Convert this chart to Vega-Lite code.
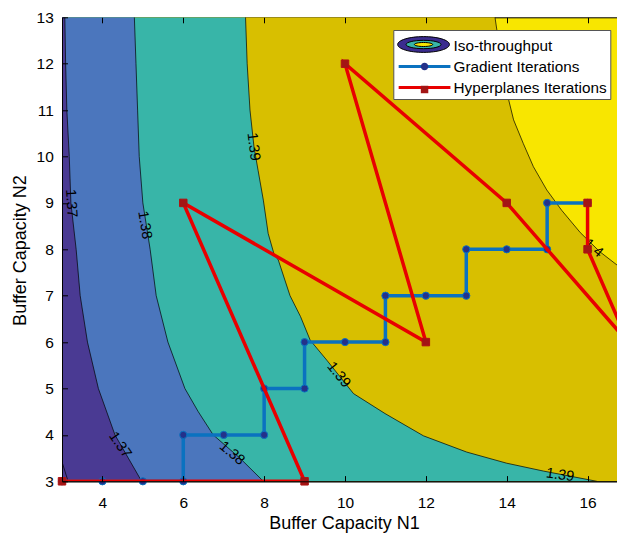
{
  "$schema": "https://vega.github.io/schema/vega-lite/v6.json",
  "width": 566,
  "height": 464,
  "autosize": "none",
  "padding": {"left": 62, "top": 17.3, "right": -11, "bottom": 51.7},
  "background": "white",
  "config": {
    "view": {"fill": "#f8e600", "stroke": "#000", "strokeWidth": 1},
    "font": "Liberation Sans",
    "text": {"font": "Liberation Sans", "fontSize": 14.5, "color": "#000", "align": "center", "baseline": "middle"},
    "axis": {
      "domainColor": "#000", "tickColor": "#000", "labelColor": "#000", "titleColor": "#000",
      "labelFont": "Liberation Sans", "titleFont": "Liberation Sans",
      "labelFontSize": 15.5, "titleFontSize": 18, "titleFontWeight": "normal",
      "tickSize": -5.5, "labelFlush": false, "domainWidth": 1, "tickWidth": 1
    },
    "legend": {
      "labelFont": "Liberation Sans", "labelFontSize": 15.3, "labelColor": "#000", "labelLimit": 300,
      "padding": 3, "symbolSize": 454, "rowPadding": 0, "symbolOpacity": 1
    }
  },
  "datasets": {
    "contours": [
      {"level": "1.36", "n1": 3.0, "n2": 3.42}, {"level": "1.36", "n1": 3.15, "n2": 3.0},
      {"level": "1.37", "n1": 3.07, "n2": 13}, {"level": "1.37", "n1": 3.09, "n2": 12}, {"level": "1.37", "n1": 3.12, "n2": 11},
      {"level": "1.37", "n1": 3.18, "n2": 10}, {"level": "1.37", "n1": 3.22, "n2": 9}, {"level": "1.37", "n1": 3.35, "n2": 8},
      {"level": "1.37", "n1": 3.45, "n2": 7}, {"level": "1.37", "n1": 3.63, "n2": 6}, {"level": "1.37", "n1": 3.9, "n2": 5},
      {"level": "1.37", "n1": 4.31, "n2": 4}, {"level": "1.37", "n1": 4.64, "n2": 3.5}, {"level": "1.37", "n1": 4.97, "n2": 3},
      {"level": "1.38", "n1": 4.79, "n2": 13}, {"level": "1.38", "n1": 4.83, "n2": 12}, {"level": "1.38", "n1": 4.87, "n2": 11},
      {"level": "1.38", "n1": 4.91, "n2": 10}, {"level": "1.38", "n1": 5.0, "n2": 9}, {"level": "1.38", "n1": 5.18, "n2": 8},
      {"level": "1.38", "n1": 5.33, "n2": 7}, {"level": "1.38", "n1": 5.62, "n2": 6}, {"level": "1.38", "n1": 6.04, "n2": 5},
      {"level": "1.38", "n1": 6.37, "n2": 4.5}, {"level": "1.38", "n1": 6.74, "n2": 4}, {"level": "1.38", "n1": 7.4, "n2": 3.5},
      {"level": "1.38", "n1": 7.98, "n2": 3},
      {"level": "1.39", "n1": 7.54, "n2": 13}, {"level": "1.39", "n1": 7.58, "n2": 12}, {"level": "1.39", "n1": 7.65, "n2": 11},
      {"level": "1.39", "n1": 7.75, "n2": 10.2}, {"level": "1.39", "n1": 7.85, "n2": 9.7}, {"level": "1.39", "n1": 7.98, "n2": 9.06},
      {"level": "1.39", "n1": 8.1, "n2": 8.34}, {"level": "1.39", "n1": 8.24, "n2": 7.91}, {"level": "1.39", "n1": 8.35, "n2": 7.77},
      {"level": "1.39", "n1": 8.64, "n2": 7}, {"level": "1.39", "n1": 8.9, "n2": 6.55}, {"level": "1.39", "n1": 9.14, "n2": 6.04},
      {"level": "1.39", "n1": 9.55, "n2": 5.61}, {"level": "1.39", "n1": 10.21, "n2": 4.89}, {"level": "1.39", "n1": 10.99, "n2": 4.46},
      {"level": "1.39", "n1": 11.94, "n2": 3.98}, {"level": "1.39", "n1": 13.01, "n2": 3.63}, {"level": "1.39", "n1": 14.0, "n2": 3.39},
      {"level": "1.39", "n1": 14.91, "n2": 3.22}, {"level": "1.39", "n1": 16.23, "n2": 3},
      {"level": "1.40", "n1": 13.71, "n2": 13}, {"level": "1.40", "n1": 13.88, "n2": 12}, {"level": "1.40", "n1": 14.04, "n2": 11.25},
      {"level": "1.40", "n1": 14.17, "n2": 10.79}, {"level": "1.40", "n1": 14.41, "n2": 10.28}, {"level": "1.40", "n1": 14.66, "n2": 9.78},
      {"level": "1.40", "n1": 14.99, "n2": 9.28}, {"level": "1.40", "n1": 15.36, "n2": 8.84}, {"level": "1.40", "n1": 15.82, "n2": 8.36},
      {"level": "1.40", "n1": 16.3, "n2": 7.95}, {"level": "1.40", "n1": 16.73, "n2": 7.66}, {"level": "1.40", "n1": 17.2, "n2": 7.3},
      {"level": "1.40", "n1": 17.8, "n2": 3}
    ],
    "gradient": [
      {"step": 0, "n1": 3, "n2": 3}, {"step": 1, "n1": 4, "n2": 3}, {"step": 2, "n1": 5, "n2": 3}, {"step": 3, "n1": 6, "n2": 3},
      {"step": 4, "n1": 6, "n2": 4}, {"step": 5, "n1": 7, "n2": 4}, {"step": 6, "n1": 8, "n2": 4}, {"step": 7, "n1": 8, "n2": 5},
      {"step": 8, "n1": 9, "n2": 5}, {"step": 9, "n1": 9, "n2": 6}, {"step": 10, "n1": 10, "n2": 6}, {"step": 11, "n1": 11, "n2": 6},
      {"step": 12, "n1": 11, "n2": 7}, {"step": 13, "n1": 12, "n2": 7}, {"step": 14, "n1": 13, "n2": 7}, {"step": 15, "n1": 13, "n2": 8},
      {"step": 16, "n1": 14, "n2": 8}, {"step": 17, "n1": 15, "n2": 8}, {"step": 18, "n1": 15, "n2": 9}, {"step": 19, "n1": 16, "n2": 9}
    ],
    "hyper": [
      {"step": 0, "n1": 3, "n2": 3}, {"step": 1, "n1": 9, "n2": 3}, {"step": 2, "n1": 6, "n2": 9}, {"step": 3, "n1": 12, "n2": 6},
      {"step": 4, "n1": 10, "n2": 12}, {"step": 5, "n1": 14, "n2": 9}, {"step": 6, "n1": 17, "n2": 6}, {"step": 7, "n1": 16, "n2": 8},
      {"step": 8, "n1": 16, "n2": 9}
    ],
    "series": [
      {"series": "Iso-throughput"}, {"series": "Gradient Iterations"}, {"series": "Hyperplanes Iterations"}
    ],
    "iso": [{"iso": "Iso-throughput"}]
  },
  "encoding": {
    "x": {"field": "n1", "type": "quantitative", "stack": null, "scale": {"domain": [3, 17], "nice": false, "zero": false},
      "axis": {"orient": "bottom", "values": [4, 6, 8, 10, 12, 14, 16], "title": "Buffer Capacity N1", "labelPadding": 19.5,
        "titleX": 282, "titleY": 47.5, "titleBaseline": "alphabetic", "titleAlign": "center", "zindex": 1,
        "grid": true, "gridColor": "#000", "gridOpacity": 1, "gridWidth": 1, "gridDash": [5.5, 453, 5.5, 1000]}},
    "y": {"field": "n2", "type": "quantitative", "stack": null, "scale": {"domain": [3, 13], "nice": false, "zero": false},
      "axis": {"orient": "left", "values": [3, 4, 5, 6, 7, 8, 9, 10, 11, 12, 13], "title": "Buffer Capacity N2", "labelPadding": 14.2,
        "titleX": -36.5, "titleY": 232.7, "titleAngle": 270, "titleBaseline": "alphabetic", "titleAlign": "center", "zindex": 1, "grid": false}}
  },
  "resolve": {"scale": {"color": "independent", "shape": "independent"}},
  "layer": [
    {
      "data": {"name": "contours"},
      "transform": [{"filter": "datum.level == '1.40'"}],
      "mark": {"type": "area", "orient": "horizontal", "color": "#d8bf00", "clip": true},
      "encoding": {}
    },
    {
      "data": {"name": "contours"},
      "transform": [{"filter": "datum.level == '1.39'"}],
      "mark": {"type": "area", "orient": "horizontal", "color": "#38b5a8", "clip": true},
      "encoding": {}
    },
    {
      "data": {"name": "contours"},
      "transform": [{"filter": "datum.level == '1.38'"}],
      "mark": {"type": "area", "orient": "horizontal", "color": "#4b76bd", "clip": true},
      "encoding": {}
    },
    {
      "data": {"name": "contours"},
      "transform": [{"filter": "datum.level == '1.37'"}],
      "mark": {"type": "area", "orient": "horizontal", "color": "#4a3a93", "clip": true},
      "encoding": {}
    },
    {
      "data": {"name": "contours"},
      "mark": {"type": "line", "color": "#000", "strokeWidth": 0.7, "clip": true},
      "encoding": {
        "detail": {"field": "level"},
        "order": {"field": "n2", "type": "quantitative"}
      }
    },
    {
      "layer": [
        {"data": {"values": [{"label": "1.37", "n1": 3.22, "n2": 8.99}]}, "mark": {"type": "text", "angle": 86}, "encoding": {"text": {"field": "label"}}},
        {"data": {"values": [{"label": "1.38", "n1": 5.04, "n2": 8.52}]}, "mark": {"type": "text", "angle": 81}, "encoding": {"text": {"field": "label"}}},
        {"data": {"values": [{"label": "1.39", "n1": 7.73, "n2": 10.21}]}, "mark": {"type": "text", "angle": 83}, "encoding": {"text": {"field": "label"}}},
        {"data": {"values": [{"label": "1.37", "n1": 4.43, "n2": 3.78}]}, "mark": {"type": "text", "angle": 56}, "encoding": {"text": {"field": "label"}}},
        {"data": {"values": [{"label": "1.38", "n1": 7.2, "n2": 3.6}]}, "mark": {"type": "text", "angle": 40}, "encoding": {"text": {"field": "label"}}},
        {"data": {"values": [{"label": "1.39", "n1": 9.84, "n2": 5.29}]}, "mark": {"type": "text", "angle": 51}, "encoding": {"text": {"field": "label"}}},
        {"data": {"values": [{"label": "1.39", "n1": 15.32, "n2": 3.13}]}, "mark": {"type": "text", "angle": 8}, "encoding": {"text": {"field": "label"}}},
        {"data": {"values": [{"label": "1.4", "n1": 16.14, "n2": 8.02}]}, "mark": {"type": "text", "angle": 40}, "encoding": {"text": {"field": "label"}}}
      ]
    },
    {
      "data": {"name": "gradient"},
      "mark": {"type": "line", "color": "#0a72c0", "strokeWidth": 3.5, "clip": true},
      "encoding": {"order": {"field": "step", "type": "quantitative"}}
    },
    {
      "data": {"name": "gradient"},
      "mark": {"type": "point", "shape": "circle", "filled": true, "fill": "#24318a", "stroke": "#0a72c0", "strokeWidth": 1, "size": 52, "opacity": 1}
    },
    {
      "data": {"name": "hyper"},
      "mark": {"type": "line", "color": "#e80000", "strokeWidth": 3.5, "clip": true},
      "encoding": {"order": {"field": "step", "type": "quantitative"}}
    },
    {
      "data": {"name": "hyper"},
      "mark": {"type": "point", "shape": "square", "filled": true, "fill": "#a31515", "stroke": "#b01212", "strokeWidth": 1, "size": 56, "opacity": 1}
    },
    {
      "data": {"name": "series"},
      "mark": {"type": "point", "filled": false, "opacity": 0},
      "encoding": {
        "color": {"field": "series", "type": "nominal",
          "scale": {"domain": ["Iso-throughput", "Gradient Iterations", "Hyperplanes Iterations"], "range": ["transparent", "#0a72c0", "#e80000"]},
          "legend": {"title": null, "orient": "none", "legendX": 331.3, "legendY": 12.7, "fillColor": "white", "strokeColor": "#555",
            "symbolStrokeWidth": 3, "symbolOffset": 15.75, "labelOffset": 16.5, "zindex": 1}},
        "shape": {"field": "series", "type": "nominal",
          "scale": {"domain": ["Iso-throughput", "Gradient Iterations", "Hyperplanes Iterations"], "range": ["M0,0", "M-2.43,0H2.43", "M-2.43,0H2.43"]},
          "legend": {"title": null}}
      }
    },
    {
      "data": {"name": "iso"},
      "mark": {"type": "point", "filled": true, "opacity": 0, "shape": "M-2.43,0A2.43,0.74 0 1 1 2.43,0A2.43,0.74 0 1 1 -2.43,0Z"},
      "encoding": {
        "color": {"field": "iso", "type": "nominal", "scale": {"domain": ["Iso-throughput"], "range": ["#3b2c8f"]},
          "legend": {"title": null, "orient": "none", "legendX": 331.3, "legendY": 12.7, "symbolStrokeWidth": 1, "symbolStrokeColor": "#000",
            "symbolType": "M-2.43,0A2.43,0.74 0 1 1 2.43,0A2.43,0.74 0 1 1 -2.43,0Z", "symbolOffset": 15.75, "labelOffset": 16.5, "labelExpr": "''", "zindex": 2}}
      }
    },
    {
      "data": {"name": "iso"},
      "mark": {"type": "point", "filled": true, "opacity": 0, "shape": "M-1.64,0A1.64,0.39 0 1 1 1.64,0A1.64,0.39 0 1 1 -1.64,0Z"},
      "encoding": {
        "color": {"field": "iso", "type": "nominal", "scale": {"domain": ["Iso-throughput"], "range": ["#38b5a8"]},
          "legend": {"title": null, "orient": "none", "legendX": 331.3, "legendY": 12.7, "symbolStrokeWidth": 1, "symbolStrokeColor": "#000",
            "symbolType": "M-1.64,0A1.64,0.39 0 1 1 1.64,0A1.64,0.39 0 1 1 -1.64,0Z", "symbolOffset": 15.75, "labelOffset": 16.5, "labelExpr": "''", "zindex": 3}}
      }
    },
    {
      "data": {"name": "iso"},
      "mark": {"type": "point", "filled": true, "opacity": 0, "shape": "M-0.86,0A0.86,0.19 0 1 1 0.86,0A0.86,0.19 0 1 1 -0.86,0Z"},
      "encoding": {
        "color": {"field": "iso", "type": "nominal", "scale": {"domain": ["Iso-throughput"], "range": ["#f8e600"]},
          "legend": {"title": null, "orient": "none", "legendX": 331.3, "legendY": 12.7, "symbolStrokeWidth": 1, "symbolStrokeColor": "#000",
            "symbolType": "M-0.86,0A0.86,0.19 0 1 1 0.86,0A0.86,0.19 0 1 1 -0.86,0Z", "symbolOffset": 15.75, "labelOffset": 16.5, "labelExpr": "''", "zindex": 4}}
      }
    },
    {
      "data": {"name": "series"},
      "mark": {"type": "point", "filled": true, "opacity": 0},
      "encoding": {
        "color": {"field": "series", "type": "nominal",
          "scale": {"domain": ["Iso-throughput", "Gradient Iterations", "Hyperplanes Iterations"], "range": ["transparent", "#24318a", "#a31515"]},
          "legend": {"title": null, "orient": "none", "legendX": 331.3, "legendY": 12.7, "symbolStrokeWidth": 3, "symbolStrokeColor": "transparent",
            "symbolOffset": 15.75, "labelOffset": 16.5, "labelExpr": "''", "zindex": 5}},
        "shape": {"field": "series", "type": "nominal",
          "scale": {"domain": ["Iso-throughput", "Gradient Iterations", "Hyperplanes Iterations"],
            "range": ["M0,0", "M0.35,0A0.35,0.35 0 1 1 -0.35,0A0.35,0.35 0 1 1 0.35,0Z", "M-0.35,-0.35H0.35V0.35H-0.35Z"]},
          "legend": {"title": null}}
      }
    }
  ]
}
